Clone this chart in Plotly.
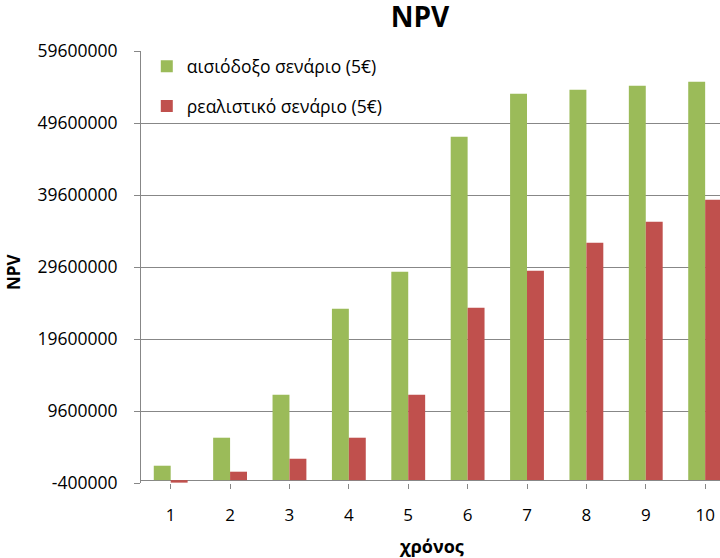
import plotly.graph_objects as go

# years
years = [1, 2, 3, 4, 5, 6, 7, 8, 9, 10]

# NPV per scenario
optimistic = [2000000, 5890000, 11860000, 23800000, 28940000,
              47690000, 53670000, 54220000, 54780000, 55330000]
realistic = [-350000, 1170000, 2970000, 5890000, 11860000,
             23940000, 29080000, 32970000, 35890000, 38940000]

y_ticks = [-400000, 9600000, 19600000, 29600000, 39600000, 49600000, 59600000]
y_tick_text = [str(v) for v in y_ticks]

GREEN = "#9BBB59"
RED = "#C0504D"
GRID = "#878787"
FONT = "Open Sans"

fig = go.Figure()
fig.add_trace(go.Bar(x=years, y=optimistic, name="αισιόδοξο σενάριο (5€)",
                     marker=dict(color=GREEN, line=dict(width=0)), legendgroup="a"))
fig.add_trace(go.Bar(x=years, y=realistic, name="ρεαλιστικό σενάριο (5€)",
                     marker=dict(color=RED, line=dict(width=0)), legendgroup="b"))

fig.update_layout(
    width=720, height=558,
    margin=dict(l=141, r=0, t=51, b=75),
    paper_bgcolor="white", plot_bgcolor="white",
    font=dict(family=FONT, size=17, color="black"),
    barmode="group", bargap=0.43, bargroupgap=0,
    title=dict(text="<b>NPV</b>", x=420 / 720, xref="container", xanchor="center",
               y=1 - 17 / 558, yref="container", yanchor="middle",
               font=dict(size=28, family=FONT)),
    showlegend=True,
    legend=dict(x=0.01, y=1.006, xanchor="left", yanchor="top",
                bgcolor="rgba(0,0,0,0)", tracegroupgap=14,
                traceorder="grouped", font=dict(size=17.5)),
)

fig.update_xaxes(
    range=[0.5, 10.25], tickmode="array", tickvals=years,
    tickson="boundaries", ticks="outside", ticklen=5, tickcolor=GRID,
    showgrid=False, showline=False, ticklabelstandoff=12,
    tickfont=dict(size=17),
)
fig.update_yaxes(
    range=[-400000, 59600000], tickmode="array",
    tickvals=y_ticks, ticktext=y_tick_text,
    ticks="outside", ticklen=6, tickcolor=GRID,
    showgrid=True, gridcolor=GRID, gridwidth=1,
    zeroline=True, zerolinecolor=GRID, zerolinewidth=1,
    showline=True, linecolor=GRID, linewidth=1,
    ticklabelstandoff=13, tickfont=dict(size=17.5),
)

fig.add_annotation(text="<b>NPV</b>", textangle=-90, xref="paper", yref="paper",
                   x=(13 - 141) / 579, y=(483 - 272) / 432, showarrow=False,
                   xanchor="center", yanchor="middle",
                   font=dict(size=17, family=FONT))
fig.add_annotation(text="<b>χρόνος</b>", xref="paper", yref="paper",
                   x=(431 - 141) / 579, y=-(546 - 483) / 432, showarrow=False,
                   xanchor="center", yanchor="middle",
                   font=dict(size=18, family=FONT))

# page body has a default 8px margin; drop it so the figure sits at 0,0
fig.write_html("out.html", config={"displayModeBar": False},
               post_script="document.body.style.margin='0';")
